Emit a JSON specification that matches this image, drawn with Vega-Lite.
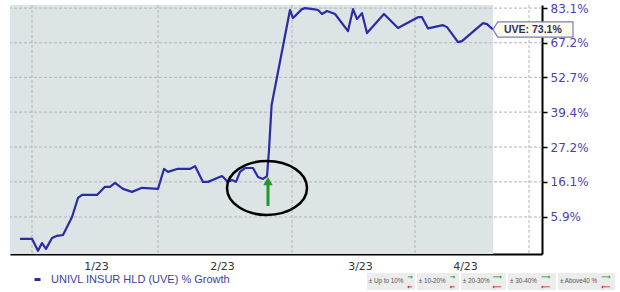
{
  "$schema": "https://vega.github.io/schema/vega-lite/v6.json",
  "width": 532,
  "height": 249,
  "autosize": {"type": "none"},
  "padding": {"left": 10, "top": 5, "right": 78, "bottom": 38},
  "background": "white",
  "config": {"view": {"stroke": null}, "font": "DejaVu Sans"},
  "datasets": {
    "growth": [
      {"day": 2.5, "ratio": 1.000}, {"day": 5.5, "ratio": 1.000}, {"day": 7, "ratio": 0.969}, {"day": 8, "ratio": 0.989},
      {"day": 9, "ratio": 0.974}, {"day": 10.5, "ratio": 1.002}, {"day": 11.75, "ratio": 1.008}, {"day": 13.25, "ratio": 1.010},
      {"day": 15.5, "ratio": 1.059}, {"day": 17, "ratio": 1.113}, {"day": 18, "ratio": 1.122}, {"day": 21.75, "ratio": 1.122},
      {"day": 23.75, "ratio": 1.146}, {"day": 25, "ratio": 1.146}, {"day": 26.25, "ratio": 1.158}, {"day": 28.25, "ratio": 1.140},
      {"day": 30.5, "ratio": 1.131}, {"day": 33, "ratio": 1.143}, {"day": 37, "ratio": 1.140}, {"day": 38.5, "ratio": 1.201},
      {"day": 39.5, "ratio": 1.192}, {"day": 41.75, "ratio": 1.201}, {"day": 45, "ratio": 1.201}, {"day": 46.25, "ratio": 1.210},
      {"day": 48.25, "ratio": 1.161}, {"day": 49.5, "ratio": 1.161}, {"day": 53, "ratio": 1.179}, {"day": 54.5, "ratio": 1.161},
      {"day": 55.5, "ratio": 1.167}, {"day": 56.5, "ratio": 1.161}, {"day": 57.5, "ratio": 1.192}, {"day": 58.75, "ratio": 1.204},
      {"day": 60.75, "ratio": 1.204}, {"day": 62, "ratio": 1.176}, {"day": 63.25, "ratio": 1.170}, {"day": 64.25, "ratio": 1.179},
      {"day": 64.75, "ratio": 1.262}, {"day": 65.4, "ratio": 1.420}, {"day": 70, "ratio": 1.822}, {"day": 70.75, "ratio": 1.784},
      {"day": 73, "ratio": 1.826}, {"day": 73.75, "ratio": 1.831}, {"day": 75.75, "ratio": 1.826}, {"day": 77, "ratio": 1.822},
      {"day": 78, "ratio": 1.803}, {"day": 79.25, "ratio": 1.817}, {"day": 81.25, "ratio": 1.803}, {"day": 84.5, "ratio": 1.724},
      {"day": 85.75, "ratio": 1.826}, {"day": 86.75, "ratio": 1.779}, {"day": 88, "ratio": 1.807}, {"day": 89.25, "ratio": 1.715},
      {"day": 93.5, "ratio": 1.803}, {"day": 97, "ratio": 1.738}, {"day": 102, "ratio": 1.788}, {"day": 103, "ratio": 1.788},
      {"day": 104.5, "ratio": 1.736}, {"day": 108.25, "ratio": 1.751}, {"day": 109.25, "ratio": 1.742}, {"day": 112, "ratio": 1.675},
      {"day": 113, "ratio": 1.679}, {"day": 118.25, "ratio": 1.760}, {"day": 119.25, "ratio": 1.756}, {"day": 120.75, "ratio": 1.731}
    ],
    "months": [{"day": 5.5}, {"day": 37}, {"day": 70.5}, {"day": 101.25}, {"day": 129.75}],
    "levels": [{"ratio": 1.059}, {"ratio": 1.161}, {"ratio": 1.272}, {"ratio": 1.394}, {"ratio": 1.527}, {"ratio": 1.672}, {"ratio": 1.831}],
    "keys": [
      {"label": "± Up to 10%", "x0": 89.25, "x1": 101.25, "tx": 89.7, "ax": 100.0, "arrowR": "→", "arrowL": "←"},
      {"label": "± 10-20%", "x0": 101.75, "x1": 112.25, "tx": 102.2, "ax": 110.6, "arrowR": "→", "arrowL": "←"},
      {"label": "± 20-30%", "x0": 112.75, "x1": 124.0, "tx": 113.2, "ax": 121.8, "arrowR": "⟶", "arrowL": "⟵"},
      {"label": "± 30-40%", "x0": 124.5, "x1": 136.5, "tx": 125.0, "ax": 133.9, "arrowR": "⟶", "arrowL": "⟵"},
      {"label": "± Above40 %", "x0": 137.0, "x1": 151.25, "tx": 137.5, "ax": 149.0, "arrowR": "⟶", "arrowL": "⟵"}
    ]
  },
  "layer": [
    {
      "data": {"values": [{"start": 0, "end": 120.75}]},
      "mark": {"type": "rect", "color": "#dce4e6"},
      "encoding": {
        "x": {"field": "start", "type": "quantitative", "scale": {"domain": [0, 133], "nice": false, "zero": false}},
        "x2": {"field": "end"},
        "y": {"datum": 0.961, "type": "quantitative", "scale": {"type": "log", "domain": [0.961, 1.846], "nice": false}},
        "y2": {"datum": 1.846}
      }
    },
    {
      "data": {"name": "months"},
      "mark": {"type": "rule", "color": "#b4b4b4", "strokeDash": [3, 2], "strokeWidth": 1},
      "encoding": {"x": {"field": "day", "type": "quantitative"}}
    },
    {
      "data": {"name": "levels"},
      "mark": {"type": "rule", "color": "#b4b4b4", "strokeDash": [3, 2], "strokeWidth": 1},
      "encoding": {"y": {"field": "ratio", "type": "quantitative"}}
    },
    {
      "data": {"name": "growth"},
      "mark": {"type": "line", "strokeWidth": 2.2, "strokeJoin": "round"},
      "encoding": {
        "x": {
          "field": "day", "type": "quantitative",
          "scale": {"domain": [0, 133], "nice": false, "zero": false},
          "axis": {
            "title": null, "grid": false, "ticks": false,
            "values": [21.5, 53, 87.5, 113.75],
            "labelExpr": "datum.value == 21.5 ? '1/23' : datum.value == 53 ? '2/23' : datum.value == 87.5 ? '3/23' : '4/23'",
            "labelFont": "DejaVu Sans", "labelFontSize": 11, "labelColor": "#333333", "labelPadding": 6,
            "domainColor": "#000000", "domainWidth": 2
          }
        },
        "y": {
          "field": "ratio", "type": "quantitative",
          "scale": {"type": "log", "domain": [0.961, 1.846], "nice": false},
          "axis": {
            "orient": "right", "title": null, "grid": false,
            "values": [1.059, 1.161, 1.272, 1.394, 1.527, 1.672, 1.831],
            "labelExpr": "format(datum.value - 1, '.1%')",
            "labelFont": "DejaVu Sans", "labelFontSize": 12, "labelColor": "#4b3fb5", "labelPadding": 3,
            "tickSize": 5, "tickColor": "#000000", "tickWidth": 1.5,
            "domainColor": "#000000", "domainWidth": 2
          }
        },
        "color": {
          "datum": "UNIVL INSUR HLD (UVE) % Growth", "type": "nominal",
          "scale": {"range": ["#2b2ba6"]},
          "legend": {
            "title": null, "orient": "none", "legendX": 22, "legendY": 269, "padding": 0,
            "symbolType": "stroke", "symbolSize": 36, "symbolStrokeWidth": 3, "labelOffset": 8, "labelLimit": 400,
            "labelFont": "Liberation Sans", "labelFontSize": 11, "labelColor": "#4040a8"
          }
        }
      }
    },
    {
      "data": {"values": [{"day": 64.25, "ratio": 1.1426}]},
      "mark": {"type": "point", "filled": false, "stroke": "#000000", "strokeWidth": 2.5, "size": 6400, "opacity": 1,
               "shape": "M -1 0 A 1 0.675 0 1 0 1 0 A 1 0.675 0 1 0 -1 0 Z"},
      "encoding": {"x": {"field": "day", "type": "quantitative"}, "y": {"field": "ratio", "type": "quantitative"}}
    },
    {
      "data": {"values": [{"day": 64.5, "low": 1.090, "high": 1.157}]},
      "mark": {"type": "rule", "color": "#1f9a2a", "strokeWidth": 3},
      "encoding": {"x": {"field": "day", "type": "quantitative"}, "y": {"field": "low", "type": "quantitative"}, "y2": {"field": "high"}}
    },
    {
      "data": {"values": [{"day": 64.5, "ratio": 1.1635}]},
      "mark": {"type": "point", "shape": "triangle-up", "filled": true, "color": "#1f9a2a", "size": 90, "opacity": 1},
      "encoding": {"x": {"field": "day", "type": "quantitative"}, "y": {"field": "ratio", "type": "quantitative"}}
    },
    {
      "data": {"values": [{"day": 120.75, "ratio": 1.731, "label": "UVE: 73.1%"}]},
      "layer": [
        {
          "mark": {"type": "point", "filled": true, "fill": "#fdfbe3", "stroke": "#7a7acc", "strokeWidth": 1.2, "opacity": 1,
                   "size": 6400, "xOffset": 40, "shape": "M -1 0 L -0.88 -0.19 L 1 -0.19 L 1 0.19 L -0.88 0.19 Z"},
          "encoding": {"x": {"field": "day", "type": "quantitative"}, "y": {"field": "ratio", "type": "quantitative"}}
        },
        {
          "mark": {"type": "text", "align": "left", "baseline": "middle", "dx": 11, "font": "Liberation Sans",
                   "fontSize": 10.5, "fontWeight": "bold", "color": "#2e2e6e"},
          "encoding": {"x": {"field": "day", "type": "quantitative"}, "y": {"field": "ratio", "type": "quantitative"}, "text": {"field": "label"}}
        }
      ]
    },
    {
      "data": {"name": "keys"},
      "layer": [
        {
          "mark": {"type": "rect", "color": "#ececec"},
          "encoding": {
            "x": {"field": "x0", "type": "quantitative"}, "x2": {"field": "x1"},
            "y": {"datum": 0.9145, "type": "quantitative"}, "y2": {"datum": 0.8747}
          }
        },
        {
          "mark": {"type": "text", "align": "left", "baseline": "middle", "font": "Liberation Sans", "fontSize": 6.3, "color": "#555555"},
          "encoding": {"x": {"field": "tx", "type": "quantitative"}, "y": {"datum": 0.8944, "type": "quantitative"}, "text": {"field": "label"}}
        },
        {
          "mark": {"type": "text", "align": "center", "baseline": "middle", "fontSize": 6.5, "fontWeight": "bold", "color": "#1f9a2a"},
          "encoding": {"x": {"field": "ax", "type": "quantitative"}, "y": {"datum": 0.9040, "type": "quantitative"}, "text": {"field": "arrowR"}}
        },
        {
          "mark": {"type": "text", "align": "center", "baseline": "middle", "fontSize": 6.5, "fontWeight": "bold", "color": "#d42020"},
          "encoding": {"x": {"field": "ax", "type": "quantitative"}, "y": {"datum": 0.8825, "type": "quantitative"}, "text": {"field": "arrowL"}}
        }
      ]
    }
  ]
}
